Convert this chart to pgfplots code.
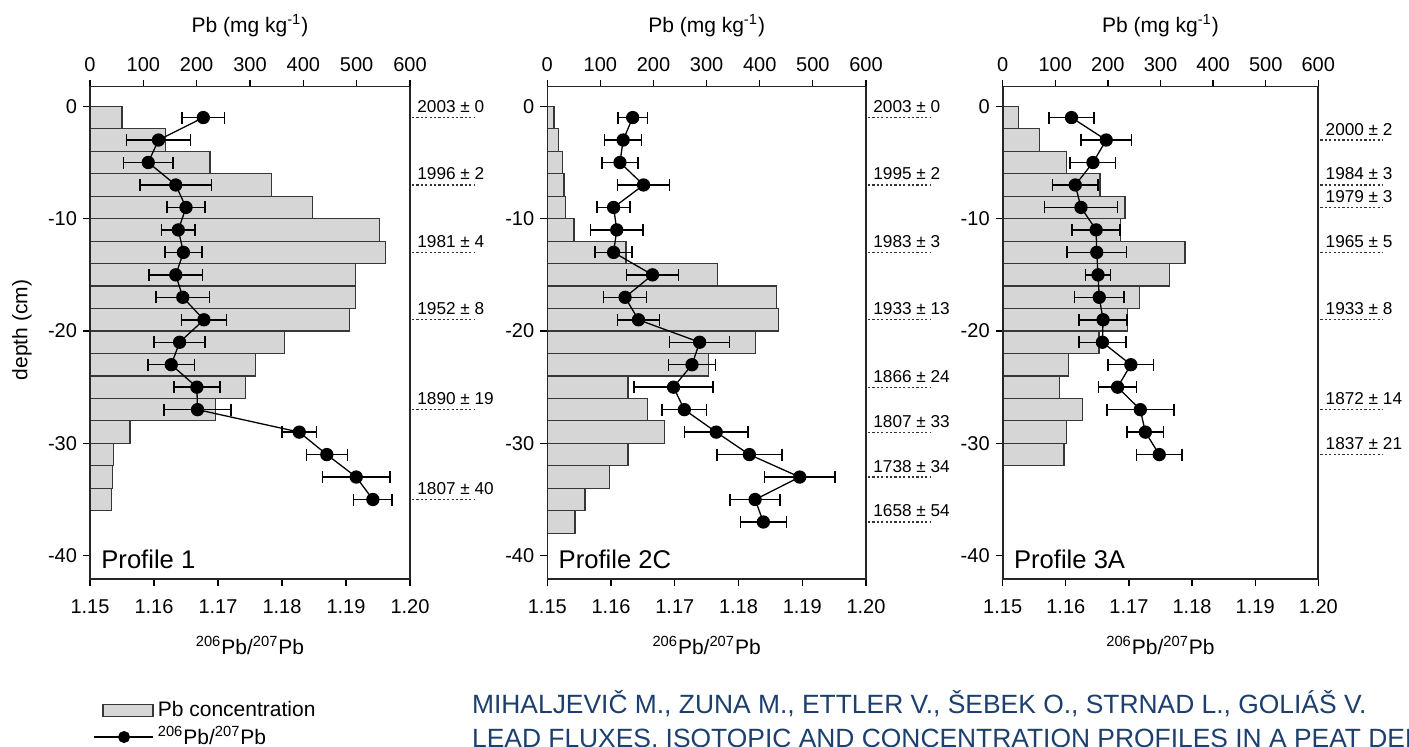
\documentclass[border=0pt]{standalone}
\usepackage{fontspec}
\setmainfont{Liberation Sans}
\usepackage{pgfplots}
\usepackage{pgfplotstable}
\pgfplotsset{compat=1.18}
\definecolor{barfill}{RGB}{214,214,214}
\definecolor{bardraw}{RGB}{55,55,55}
\definecolor{citeblue}{RGB}{28,63,110}

% ---------- Profile 1 ----------
\pgfplotstableread{
d c
-1 60
-3 141
-5 225
-7 341
-9 417
-11 543
-13 554
-15 498
-17 498
-19 486
-21 364
-23 311
-25 291
-27 236
-29 75
-31 44
-33 42
-35 41
}\concA
\pgfplotstableread{
d r e
-1 1.1677 0.0033
-3 1.1607 0.0050
-5 1.1591 0.0039
-7 1.1634 0.0056
-9 1.1650 0.0030
-11 1.1638 0.0026
-13 1.1646 0.0029
-15 1.1634 0.0042
-17 1.1645 0.0042
-19 1.1678 0.0035
-21 1.1640 0.0040
-23 1.1627 0.0036
-25 1.1667 0.0036
-27 1.1668 0.0052
-29 1.1827 0.0027
-31 1.1870 0.0032
-33 1.1916 0.0053
-35 1.1942 0.0030
}\isoA
% ---------- Profile 2C ----------
\pgfplotstableread{
d c
-1 12.6
-3 20.7
-5 29
-7 31.4
-9 34.6
-11 50.2
-13 148
-15 320
-17 431
-19 435
-21 392.5
-23 303
-25 152
-27 189
-29 220
-31 152
-33 117
-35 71
-37 52
}\concB
\pgfplotstableread{
d r e
-1 1.1634 0.0023
-3 1.1619 0.0029
-5 1.1614 0.0028
-7 1.1651 0.0041
-9 1.1604 0.0026
-11 1.1609 0.0041
-13 1.1604 0.0029
-15 1.1665 0.0041
-17 1.1622 0.0034
-19 1.1643 0.0033
-21 1.1739 0.0047
-23 1.1727 0.0037
-25 1.1698 0.0062
-27 1.1715 0.0035
-29 1.1765 0.0050
-31 1.1817 0.0051
-33 1.1896 0.0055
-35 1.1826 0.0039
-37 1.1839 0.0036
}\isoB
% ---------- Profile 3A ----------
\pgfplotstableread{
d c
-1 29.7
-3 69.6
-5 121.7
-7 185
-9 232.5
-11 224
-13 346.6
-15 316.8
-17 259.7
-19 237
-21 183
-23 124.8
-25 107.6
-27 152
-29 121.7
-31 116.5
}\concC
\pgfplotstableread{
d r e
-1 1.1609 0.0036
-3 1.1664 0.0040
-5 1.1643 0.0036
-7 1.1615 0.0036
-9 1.1624 0.0058
-11 1.1648 0.0038
-13 1.1649 0.0047
-15 1.1651 0.0020
-17 1.1653 0.0039
-19 1.1659 0.0038
-21 1.1658 0.0037
-23 1.1703 0.0036
-25 1.1682 0.0030
-27 1.1718 0.0053
-29 1.1726 0.0029
-31 1.1748 0.0036
}\isoC

\newcommand\datefont{\fontsize{8.6}{10}\selectfont}
\newcommand\datelabel[2]{%
  \draw[black!80, line width=0.6pt, dash pattern=on 1.1pt off 1.1pt] ([xshift=1pt]axis cs:1.2,#1) -- ([xshift=32pt]axis cs:1.2,#1);
  \node[anchor=base west, inner sep=0pt, xshift=3.5pt, yshift=2.5pt, font=\datefont] at (axis cs:1.2,#1) {#2};}

\tikzset{proflabel/.style={anchor=base west, inner sep=0pt, xshift=5.5pt, yshift=5.5pt, font=\fontsize{12.8}{14}\selectfont}}

\pgfplotsset{
  base/.style={
    scale only axis, height=246.3pt, ymin=-42.1, ymax=1.75,
    axis line style={line width=0.8pt, black!85},
    every tick/.style={black, line width=0.6pt},
    tick align=outside, major tick length=3.5pt,
    tick label style={font=\fontsize{10}{12}\selectfont},
    label style={font=\fontsize{10.5}{12}\selectfont},
  },
  conc/.style={base,
    xmin=0, xmax=600, xtick={0,100,200,300,400,500,600},
    xticklabels={0,100,200,300,400,500,600},
    xtick pos=right, xticklabel pos=right,
    xticklabel style={yshift=0.7pt},
    ytick={0,-10,-20,-30,-40}, yticklabels={0,-10,-20,-30,-40}, ytick pos=left,
    yticklabel style={xshift=0.5pt},
    xlabel={Pb (mg kg\textsuperscript{-1})},
    xlabel style={at={(axis description cs:0.5,1.1232)}, anchor=center},
  },
  ratio/.style={base, clip=false,
    xmin=1.15, xmax=1.20, xtick={1.15,1.16,1.17,1.18,1.19,1.20},
    xticklabels={1.15,1.16,1.17,1.18,1.19,1.20},
    xticklabel style={yshift=-3.3pt},
    xtick pos=left, xticklabel pos=left, ytick=\empty,
    xlabel={\textsuperscript{206}Pb/\textsuperscript{207}Pb},
    xlabel style={at={(axis description cs:0.5,-0.1334)}, anchor=center},
  },
  bars/.style={xbar, bar width=2, bar shift=0pt, fill=barfill, draw=bardraw, line width=0.6pt},
  iso/.style={black, line width=0.65pt, mark=*, mark size=3pt, mark options={fill=black, draw=black},
    error bars/.cd, x dir=both, x explicit,
    error bar style={line width=0.75pt, black},
    error mark options={rotate=90, line width=0.75pt, mark size=3pt, black}},
}

\begin{document}
\begin{tikzpicture}
\useasboundingbox (0,0) rectangle (704.5pt,373.5pt);
\clip (0,0) rectangle (704.5pt,373.5pt);

% ===== Panel 1 =====
\begin{axis}[conc, at={(45pt,83.85pt)}, anchor=south west, width=160pt,
  ylabel={depth (cm)},
  ylabel style={at={(axis description cs:-0.2125,0.506)}, anchor=center}]
\addplot[bars] table[x=c, y=d] {\concA};
\end{axis}
\begin{axis}[ratio, at={(45pt,83.85pt)}, anchor=south west, width=160pt,
  legend style={at={(axis description cs:0.009,-0.239)}, anchor=north west, draw=none, fill=none,
    font=\fontsize{10.5}{12}\selectfont, row sep=-0.6pt, inner sep=0pt},
  legend cell align=left]
\addlegendimage{legend image code/.code={\draw[fill=barfill, draw=bardraw, line width=0.6pt] (4.5pt,-3pt) rectangle (29.5pt,3pt);}}
\addlegendentry{Pb concentration}
\addlegendimage{legend image code/.code={\draw[black, line width=0.8pt] (0pt,0pt) -- (29.5pt,0pt); \fill[black] (15pt,0pt) circle (2.8pt);}}
\addlegendentry{\textsuperscript{206}Pb/\textsuperscript{207}Pb}
\addplot[forget plot, iso] table[x=r, y=d, x error=e] {\isoA};
\node[proflabel] at (rel axis cs:0,0) {Profile 1};
\datelabel{-1}{2003 ± 0}
\datelabel{-7}{1996 ± 2}
\datelabel{-13}{1981 ± 4}
\datelabel{-19}{1952 ± 8}
\datelabel{-27}{1890 ± 19}
\datelabel{-35}{1807 ± 40}
\end{axis}

% ===== Panel 2 =====
\begin{axis}[conc, at={(273.65pt,83.85pt)}, anchor=south west, width=159.35pt]
\addplot[bars] table[x=c, y=d] {\concB};
\end{axis}
\begin{axis}[ratio, at={(273.65pt,83.85pt)}, anchor=south west, width=159.35pt]
\addplot[iso] table[x=r, y=d, x error=e] {\isoB};
\node[proflabel] at (rel axis cs:0,0) {Profile 2C};
\datelabel{-1}{2003 ± 0}
\datelabel{-7}{1995 ± 2}
\datelabel{-13}{1983 ± 3}
\datelabel{-19}{1933 ± 13}
\datelabel{-25}{1866 ± 24}
\datelabel{-29}{1807 ± 33}
\datelabel{-33}{1738 ± 34}
\datelabel{-37}{1658 ± 54}
\end{axis}

% ===== Panel 3 =====
\begin{axis}[conc, at={(501.35pt,83.85pt)}, anchor=south west, width=157.8pt]
\addplot[bars] table[x=c, y=d] {\concC};
\end{axis}
\begin{axis}[ratio, at={(501.35pt,83.85pt)}, anchor=south west, width=157.8pt]
\addplot[iso] table[x=r, y=d, x error=e] {\isoC};
\node[proflabel] at (rel axis cs:0,0) {Profile 3A};
\datelabel{-3}{2000 ± 2}
\datelabel{-7}{1984 ± 3}
\datelabel{-9}{1979 ± 3}
\datelabel{-13}{1965 ± 5}
\datelabel{-19}{1933 ± 8}
\datelabel{-27}{1872 ± 14}
\datelabel{-31}{1837 ± 21}
\end{axis}

% ===== citation =====
\node[anchor=base west, inner sep=0pt, text=citeblue, font=\fontsize{13.2}{15}\selectfont] at (235.85pt,16.5pt)
  {MIHALJEVIČ M., ZUNA M., ETTLER V., ŠEBEK O., STRNAD L., GOLIÁŠ V.};
\node[anchor=base west, inner sep=0pt, text=citeblue, font=\fontsize{13.2}{15}\selectfont] at (235.85pt,-0.5pt)
  {LEAD FLUXES, ISOTOPIC AND CONCENTRATION PROFILES IN A PEAT DEPOSIT};
\end{tikzpicture}
\end{document}
